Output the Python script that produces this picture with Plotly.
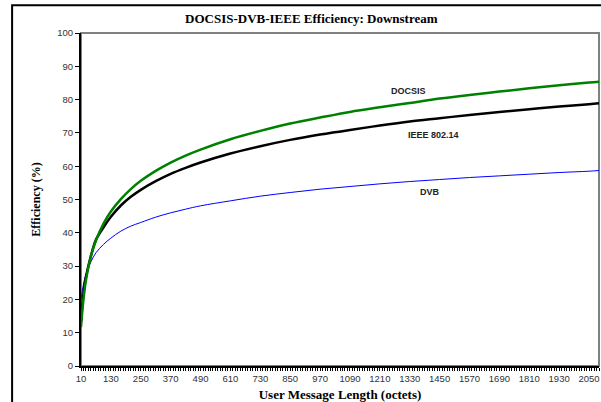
import plotly.graph_objects as go

# Message length (octets)
length = [10, 20, 30, 50, 70, 100, 130, 170, 210, 250, 310, 370, 430, 490,
          610, 730, 850, 970, 1090, 1210, 1330, 1450, 1570, 1690, 1810, 1930, 2050, 2090]

docsis = [11.7, 20.1, 25.8, 33.0, 37.7, 42.7, 46.4, 50.1, 53.1, 55.6, 58.6, 61.1, 63.2, 65.0,
          68.1, 70.6, 72.8, 74.6, 76.3, 77.7, 79.0, 80.3, 81.4, 82.4, 83.4, 84.3, 85.1, 85.4]

ieee = [13.2, 21.9, 26.8, 33.1, 37.9, 41.6, 44.8, 48.2, 50.8, 52.9, 55.5, 57.7, 59.5, 61.1,
        63.8, 66.0, 67.9, 69.5, 70.9, 72.2, 73.4, 74.4, 75.4, 76.3, 77.1, 77.9, 78.6, 78.9]

dvb = [20.0, 24.6, 27.6, 31.3, 34.0, 36.5, 38.4, 40.5, 42.0, 43.1, 44.7, 46.0, 47.1, 48.1,
       49.6, 51.0, 52.1, 53.1, 53.9, 54.7, 55.4, 56.0, 56.6, 57.1, 57.6, 58.1, 58.5, 58.7]

x_ticks = [10, 130, 250, 370, 490, 610, 730, 850, 970, 1090, 1210, 1330, 1450,
           1570, 1690, 1810, 1930, 2050]
y_ticks = [0, 10, 20, 30, 40, 50, 60, 70, 80, 90, 100]

fig = go.Figure()
fig.add_trace(go.Scatter(x=length, y=dvb, mode="lines", line=dict(color="#0000FF", width=1, shape="spline"), name="DVB"))
fig.add_trace(go.Scatter(x=length, y=ieee, mode="lines", line=dict(color="#000000", width=2.5, shape="spline"), name="IEEE 802.14"))
fig.add_trace(go.Scatter(x=length, y=docsis, mode="lines", line=dict(color="#008000", width=2.5, shape="spline"), name="DOCSIS"))

lab_font = dict(family="Liberation Sans, Arial", size=9, color="#222222")
fig.add_annotation(x=1324, y=82.6, text="<b>DOCSIS</b>", showarrow=False, font=lab_font)
fig.add_annotation(x=1425, y=69.4, text="<b>IEEE 802.14</b>", showarrow=False, font=lab_font)
fig.add_annotation(x=1413, y=52.3, text="<b>DVB</b>", showarrow=False, font=lab_font)

# outer chart border
fig.add_shape(type="rect", xref="paper", yref="paper", x0=-0.133, x1=1.1, y0=-0.2, y1=1.083,
              line=dict(color="#000000", width=2), layer="below")
# plot area border (gray)
fig.add_shape(type="rect", xref="paper", yref="paper", x0=0, x1=1, y0=0, y1=1,
              line=dict(color="#808080", width=2), layer="below")

tick_font = dict(family="Liberation Sans, Arial", size=9.5, color="#333333")
fig.update_layout(
    width=601, height=402,
    margin=dict(l=81, r=2, t=33, b=36),
    paper_bgcolor="white", plot_bgcolor="white",
    showlegend=False,
    title=dict(text="<b>DOCSIS-DVB-IEEE Efficiency: Downstream</b>", x=0.518, xanchor="center",
               y=0.955, yanchor="middle",
               font=dict(family="Liberation Serif, Times New Roman", size=13, color="#000000")),
    xaxis=dict(range=[10, 2090], tickvals=x_ticks, ticks="outside", ticklen=3, tickwidth=1,
               tickcolor="#000000", showgrid=False, zeroline=False, automargin=False,
               showline=True, linecolor="#000000", linewidth=2,
               tickfont=tick_font,
               minor=dict(dtick=10, tick0=10, ticks="outside", ticklen=3, tickcolor="#000000", showgrid=False),
               title=dict(text="<b>User Message Length (octets)</b>", standoff=7,
                          font=dict(family="Liberation Serif, Times New Roman", size=13, color="#000000"))),
    yaxis=dict(range=[0, 100], tickvals=y_ticks, ticks="outside", ticklen=4, tickwidth=1,
               tickcolor="#000000", showgrid=False, zeroline=False, automargin=False,
               showline=True, linecolor="#000000", linewidth=2,
               tickfont=tick_font,
               title=dict(text="<b>Efficiency (%)</b>", standoff=14,
                          font=dict(family="Liberation Serif, Times New Roman", size=12, color="#000000"))),
)

fig.write_html("out.html", config={"displayModeBar": False},
               post_script="document.body.style.margin='0px';document.body.style.overflow='hidden';")
